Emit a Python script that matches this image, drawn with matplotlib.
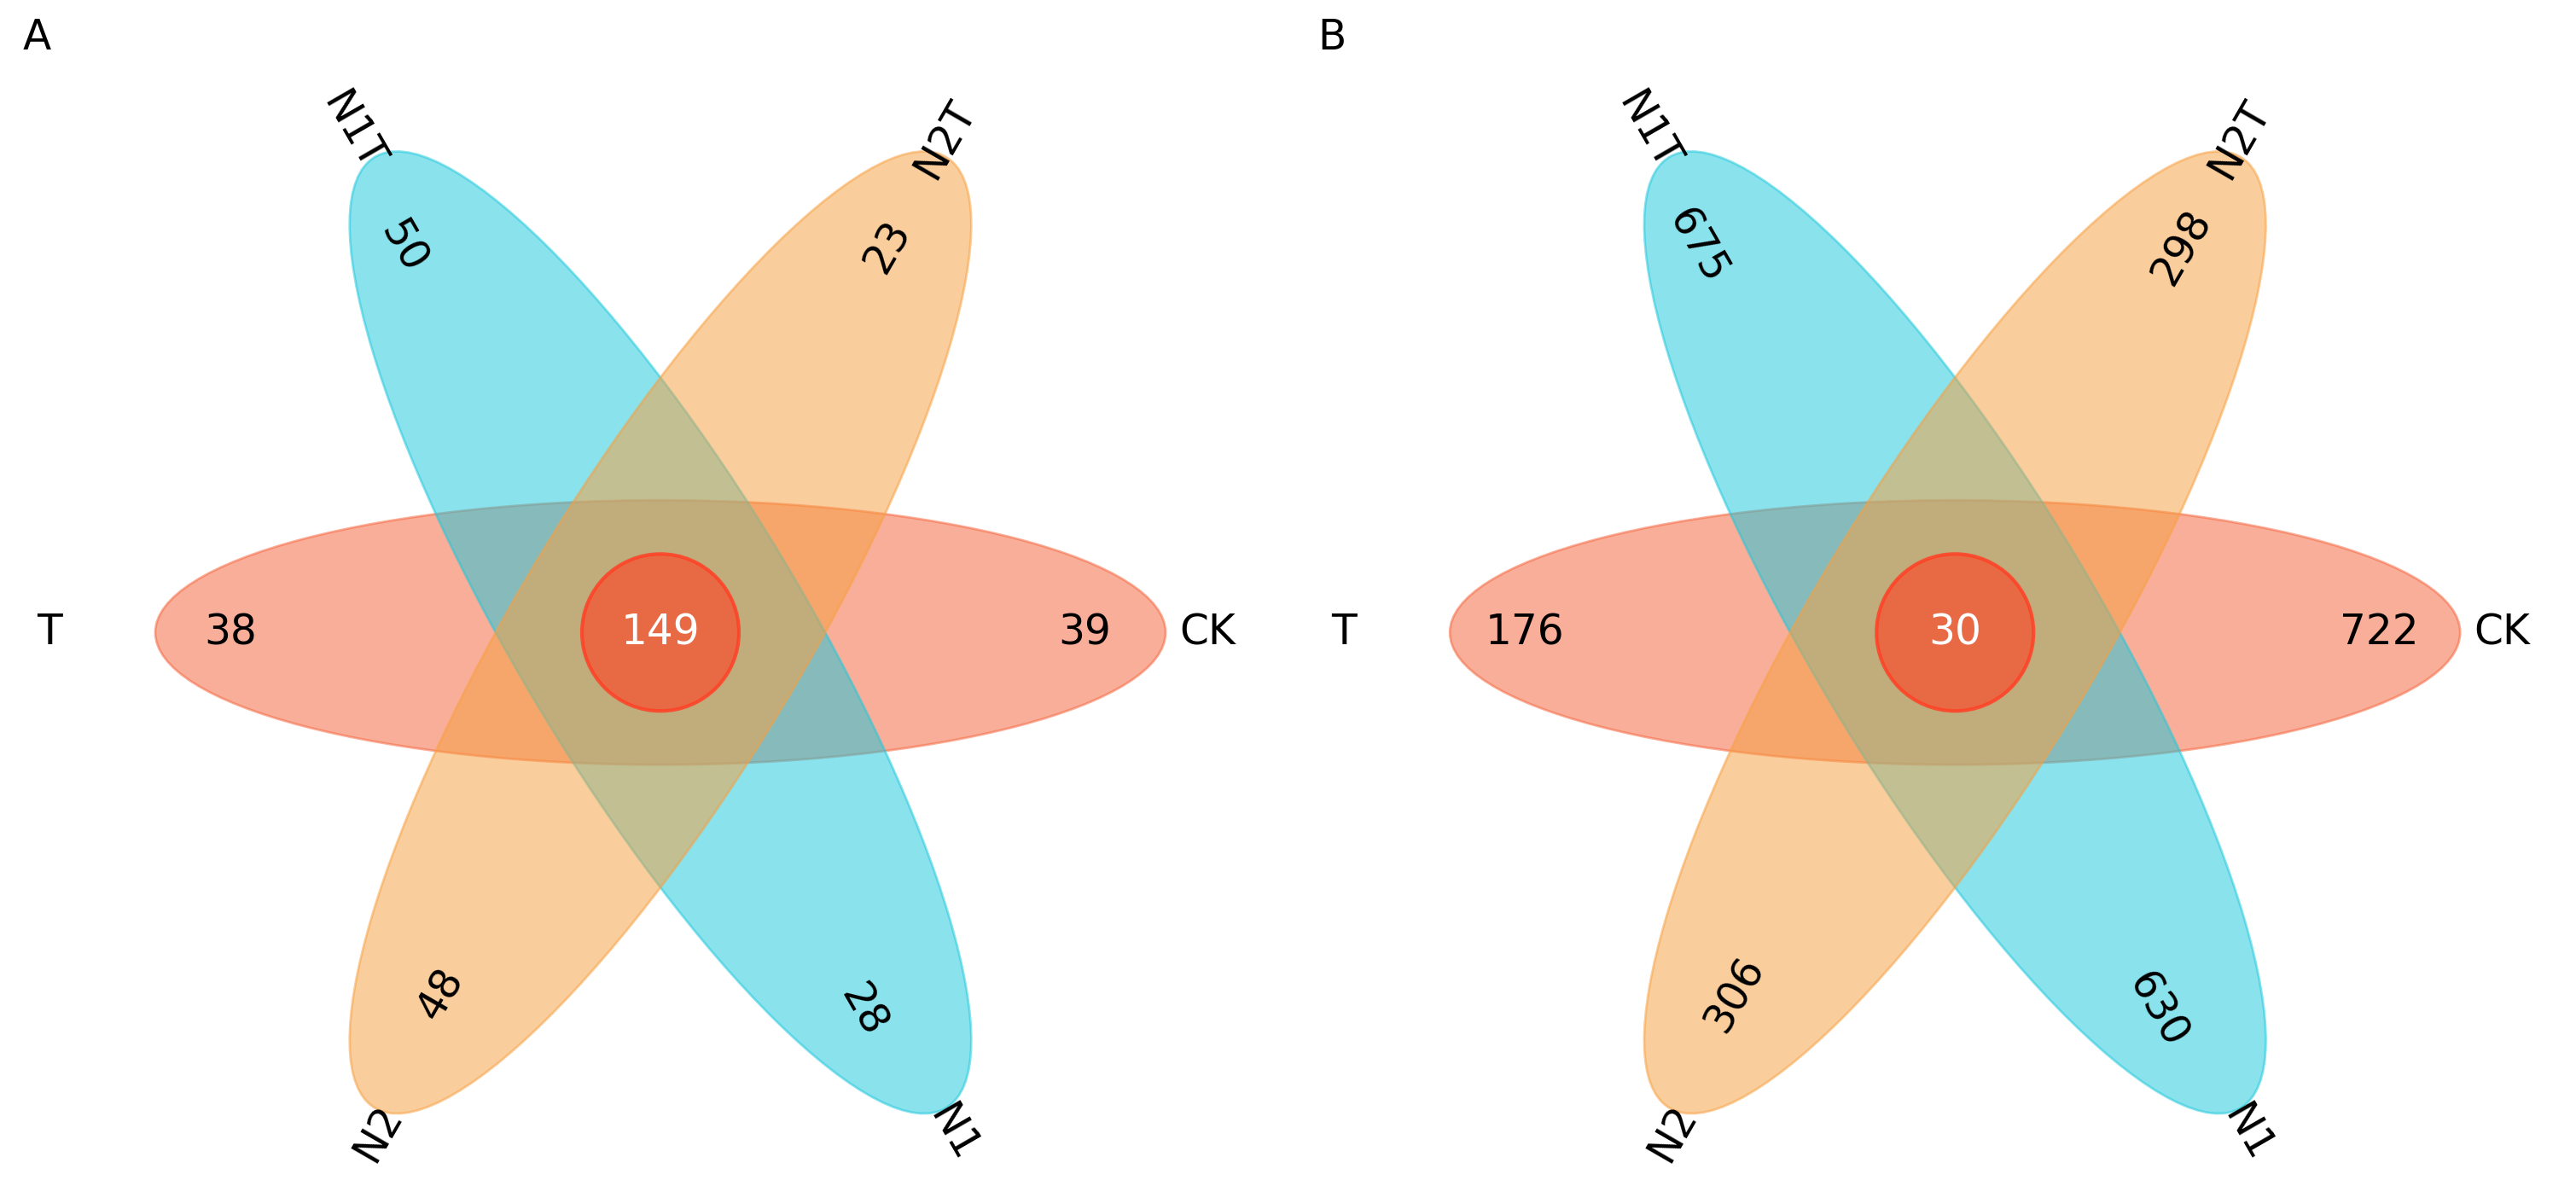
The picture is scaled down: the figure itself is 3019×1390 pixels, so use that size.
import matplotlib
matplotlib.use("Agg")
import matplotlib.pyplot as plt
from matplotlib.patches import Ellipse, Circle

panels = ["A", "B"]
set_names = ["T", "CK", "N1T", "N2T", "N2", "N1"]
unique_A = [38, 39, 50, 23, 48, 28]
unique_B = [176, 722, 675, 298, 306, 630]
core = [149, 30]

W, H = 3019, 1390
k = 0.9627
fig = plt.figure(figsize=(W/100, H/100), dpi=100)
ax = fig.add_axes([0, 0, 1, 1])
ax.set_xlim(0, W); ax.set_ylim(0, H); ax.axis("off")

red = (245/255, 100/255, 60/255)
blue = (30/255, 200/255, 220/255)
orange = (247/255, 160/255, 65/255)
a = 0.52
fs = 35

for p, (letter, vals, c) in enumerate(zip(panels, [unique_A, unique_B], core)):
    cx = (804 + p*1576) * k
    cy = H - 770 * k
    ax.add_patch(Ellipse((cx, cy), 1184, 310, angle=0, facecolor=red, alpha=a, edgecolor=red, lw=2))
    ax.add_patch(Ellipse((cx, cy), 1300, 335, angle=121, facecolor=blue, alpha=a, edgecolor=blue, lw=2))
    ax.add_patch(Ellipse((cx, cy), 1300, 335, angle=59, facecolor=orange, alpha=a, edgecolor=orange, lw=2))
    ax.add_patch(Circle((cx, cy), 92, facecolor=(240/255, 95/255, 60/255), alpha=0.85, edgecolor=(1, 0.25, 0.15), lw=3))
    ax.text(cx, cy, str(c), ha="center", va="center", fontsize=fs, color="white")
    numpos = [(-504, 0, 0), (497, 0, 0), (-302, 452, -60), (266, 452, 60), (-258, -424, 60), (237, -443, -60)]
    for v, (dx, dy, r) in zip(vals, numpos):
        ax.text(cx+dx, cy+dy, str(v), ha="center", va="center", fontsize=fs, rotation=r, color="black")
    labpos = [(-716, 0, 0), (641, 0, 0), (-360, 587, -60), (333, 578, 60), (-331, -587, 60), (343, -587, -60)]
    for n, (dx, dy, r) in zip(set_names, labpos):
        ax.text(cx+dx, cy+dy, n, ha="center", va="center", fontsize=fs, rotation=r, color="black")
    ax.text(cx-747, H-44, letter, ha="left", va="center", fontsize=fs, color="black")

fig.savefig("out.png", dpi=100)
